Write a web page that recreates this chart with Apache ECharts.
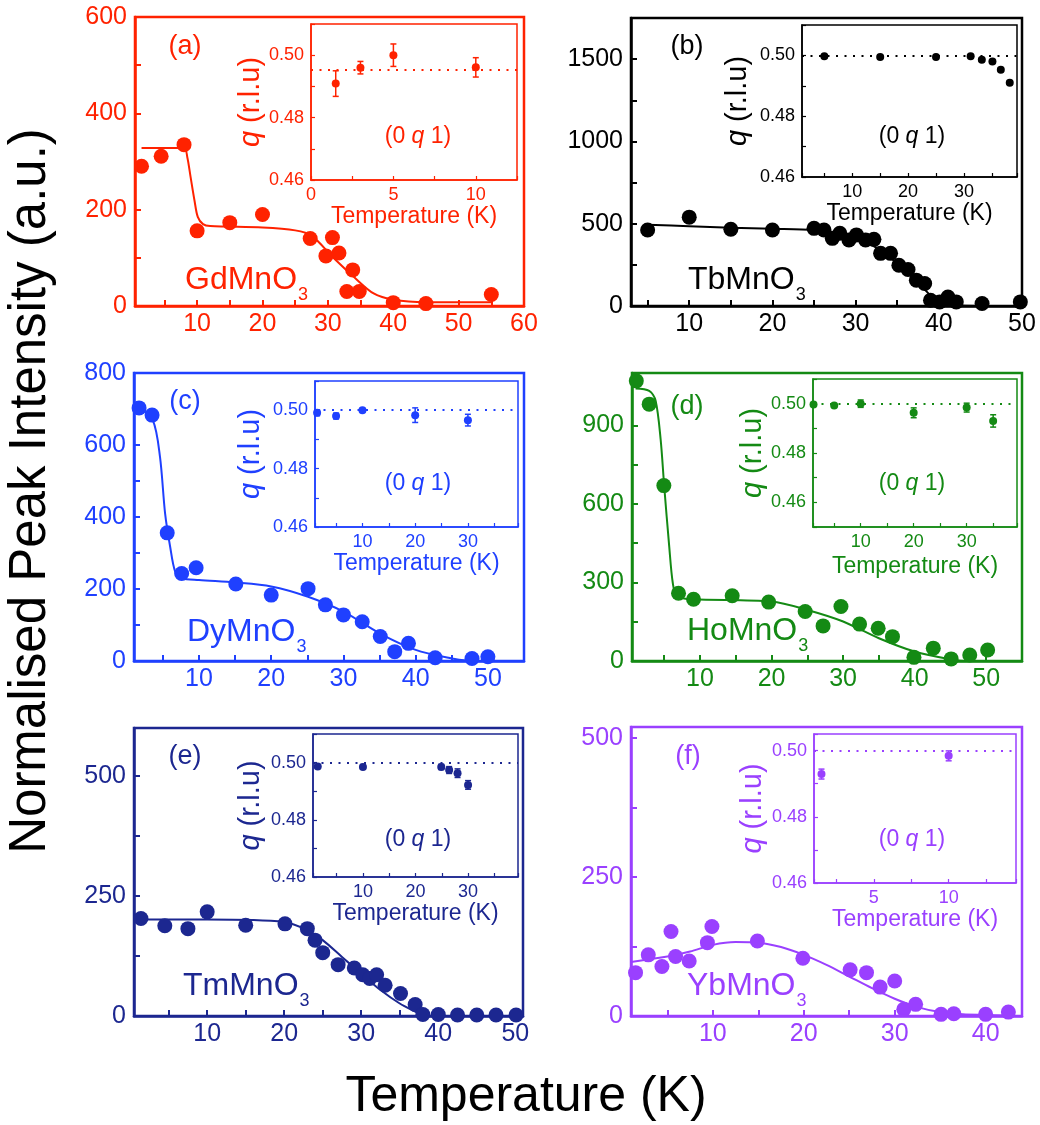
<!DOCTYPE html>
<html>
<head>
<meta charset="utf-8">
<script src="https://cdn.jsdelivr.net/npm/echarts@6/dist/echarts.min.js"></script>
<style>
  html, body { margin: 0; padding: 0; background: #fff; }
  #chart { width: 1040px; height: 1125px; }
</style>
</head>
<body>
<div id="chart"></div>
<script>
// ---- (a) GdMnO3 ----
const gdT = [1.5, 4.5, 8, 10, 15, 20, 27.3, 29.7, 30.7, 31.7, 32.9, 33.8, 34.8, 40, 45, 55]
const gdI = [290, 311, 335, 156, 173, 190, 140, 104, 142, 110, 30, 75, 30, 7, 5, 24]
const gdFitT = [1.5, 8, 8.5, 9, 9.6, 10.1, 10.9, 12, 20, 25, 27.5, 31, 34, 37, 40, 45, 55]
const gdFitI = [328, 328, 309, 268, 219, 185, 170, 166, 163, 157, 146, 98, 60, 26, 13, 8, 8]
const gdQT = [1.5, 3, 5, 10]
const gdQ = [0.4909, 0.496, 0.5, 0.4961]
const gdQErr = [0.0041, 0.002, 0.0036, 0.0031]
const gdQRef = 0.4952

// ---- (b) TbMnO3 ----
const tbT = [5, 10, 15, 20, 25, 26.2, 27.2, 28.1, 29.2, 30.1, 31.2, 32.2, 33, 34.2, 35.2, 36.3, 37.3, 38.3, 39, 40.1, 41.1, 42.1, 45.2, 49.8]
const tbI = [462, 540, 466, 462, 472, 462, 411, 442, 401, 432, 401, 405, 320, 320, 248, 222, 157, 137, 35, 25, 55, 25, 15, 25]
const tbFitT = [5, 10, 15, 20, 25, 28, 30, 33, 35, 37, 39, 40, 42, 45, 50]
const tbFitI = [493, 485, 476, 470, 462, 440, 418, 340, 259, 167, 65, 25, 4, 0, 0]
const tbQT = [5, 15, 25, 31.2, 33.2, 35.1, 36.6, 38.2]
const tbQ = [0.4997, 0.4995, 0.4995, 0.4997, 0.4986, 0.498, 0.4953, 0.491]
const tbQErr = [0.0005, 0.0005, 0.0005, 0.0005, 0.0005, 0.0005, 0.0005, 0.0005]
const tbQRef = 0.5

// ---- (c) DyMnO3 ----
const dyT = [1.7, 3.5, 5.6, 7.6, 9.6, 15.1, 20, 25.1, 27.5, 30, 32.6, 35.1, 37.1, 39, 42.7, 47.8, 50]
const dyI = [703, 683, 356, 243, 259, 214, 183, 201, 156, 128, 109, 68, 26, 49, 9, 7, 12]
const dyFitT = [1.5, 3.6, 4.6, 5.3, 6, 6.7, 7.6, 10, 15, 20, 25, 30, 35, 40, 45, 47.5]
const dyFitI = [706, 669, 567, 411, 318, 248, 230, 225, 218, 207, 179, 137, 77, 31, 7, 0]
const dyQT = [1.4, 5, 10, 20, 30]
const dyQ = [0.4991, 0.498, 0.5, 0.4983, 0.4966]
const dyQErr = [0.001, 0.001, 0.0006, 0.0025, 0.002]
const dyQRef = 0.5

// ---- (d) HoMnO3 ----
const hoT = [1.1, 2.9, 4.95, 7, 9.1, 14.5, 19.6, 24.7, 27.2, 29.7, 32.3, 34.9, 36.9, 39.9, 42.6, 45.1, 47.7, 50.2]
const hoI = [1070, 981, 670, 259, 236, 249, 225, 189, 134, 208, 141, 125, 93, 14, 49, 8, 23, 42]
const hoFitT = [1, 2.9, 3.8, 4.5, 5, 5.7, 6.2, 6.8, 9, 20, 25, 30, 35, 40, 45, 47]
const hoFitI = [1041, 1032, 994, 847, 668, 438, 298, 246, 236, 227, 195, 151, 87, 36, 6, 0]
const hoQT = [1.1, 5, 10, 20, 30, 35]
const hoQ = [0.4997, 0.4993, 0.5, 0.4963, 0.4984, 0.493]
const hoQErr = [0.0005, 0.0005, 0.0015, 0.002, 0.0018, 0.0025]
const hoQRef = 0.5

// ---- (e) TmMnO3 ----
const tmT = [1.4, 4.5, 7.5, 10, 15, 20.1, 23, 24, 25, 27, 29.1, 30.2, 31.1, 32, 33.1, 35.1, 37, 38, 40, 42.5, 45, 47.5, 50.1]
const tmI = [203, 188, 182, 217, 189, 192, 182, 158, 132, 107, 100, 86, 78, 86, 64, 47, 24, 3, 3, 2, 2, 2, 2]
const tmFitT = [1, 10, 20, 23, 25, 27.5, 30, 32.5, 35, 37.5, 38]
const tmFitI = [201, 201, 196, 179, 158, 123, 88, 54, 26, 5, 0]
const tmQT = [1.4, 10, 24.9, 26.4, 28, 30]
const tmQ = [0.4986, 0.4985, 0.4985, 0.4974, 0.4963, 0.4922]
const tmQErr = [0.0006, 0.0008, 0.0009, 0.0012, 0.0015, 0.0015]
const tmQRef = 0.5

// ---- (f) YbMnO3 ----
const ybT = [1.5, 2.9, 4.4, 5.4, 5.9, 7.4, 9.4, 9.9, 14.9, 19.9, 25.1, 26.9, 28.4, 30, 31, 32.3, 35.1, 36.5, 40, 42.5]
const ybI = [78, 110, 89, 152, 107, 99, 132, 161, 135, 104, 83, 78, 52, 63, 12, 21, 3, 4, 3, 7]
const ybFitT = [1, 5, 7.5, 10, 12.5, 15, 17.5, 20, 22.5, 25, 27.5, 30, 32.5, 35, 37.5, 40, 42.5]
const ybFitI = [97, 107, 116, 128, 133, 132, 124, 110, 92, 71, 50, 31, 16, 7, 3, 2, 1]
const ybQT = [1.5, 10]
const ybQ = [0.4929, 0.4984]
const ybQErr = [0.0015, 0.0015]
const ybQRef = 0.5

const FONT = '"Liberation Sans", Arial, sans-serif'

// layout: grid rects in px, axis ranges as [min, max, tickStep, labelStep]
const panels = [
  {
    tag: '(a)', formula: 'GdMnO', color: '#ff2200',
    T: gdT, I: gdI, fitT: gdFitT, fitI: gdFitI, qT: gdQT, q: gdQ, qErr: gdQErr, qRef: gdQRef,
    main: { left: 135, top: 17, width: 389, height: 289, x: [0.5, 60, 5, 10], y: [0, 600, 100, 200] },
    inset: { left: 311, top: 24, width: 206, height: 156, x: [0, 12.5, 2.5, 5], y: [0.46, 0.51, 0.01, 0.02], xGap: 22, yGap: 46 },
    tagPos: [185, 47], formulaPos: [185, 291.7], hklPos: [418, 137]
  },
  {
    tag: '(b)', formula: 'TbMnO', color: '#000000',
    T: tbT, I: tbI, fitT: tbFitT, fitI: tbFitI, qT: tbQT, q: tbQ, qErr: tbQErr, qRef: tbQRef,
    main: { left: 631, top: 18, width: 391, height: 288, x: [3, 50, 5, 10], y: [0, 1750, 250, 500] },
    inset: { left: 802, top: 25, width: 215, height: 152, x: [1, 39.5, 5, 10], y: [0.46, 0.51, 0.01, 0.02], xGap: 25, yGap: 50 },
    tagPos: [687, 47], formulaPos: [688, 291.7], hklPos: [912, 137]
  },
  {
    tag: '(c)', formula: 'DyMnO', color: '#1f40ff',
    T: dyT, I: dyI, fitT: dyFitT, fitI: dyFitI, qT: dyQT, q: dyQ, qErr: dyQErr, qRef: dyQRef,
    main: { left: 134, top: 373, width: 390, height: 288, x: [1, 55, 5, 10], y: [0, 800, 100, 200] },
    inset: { left: 315, top: 381, width: 203, height: 146, x: [1, 39.5, 5, 10], y: [0.46, 0.51, 0.01, 0.02], xGap: 25, yGap: 50 },
    tagPos: [185, 402], formulaPos: [187, 643.3], hklPos: [418, 484]
  },
  {
    tag: '(d)', formula: 'HoMnO', color: '#148a14',
    T: hoT, I: hoI, fitT: hoFitT, fitI: hoFitI, qT: hoQT, q: hoQ, qErr: hoQErr, qRef: hoQRef,
    main: { left: 632, top: 373, width: 390, height: 288, x: [0.5, 55, 5, 10], y: [0, 1100, 150, 300] },
    inset: { left: 813, top: 379, width: 204, height: 148, x: [1, 39.5, 5, 10], y: [0.45, 0.51, 0.01, 0.02], xGap: 28, yGap: 46 },
    tagPos: [687, 407], formulaPos: [687, 642.7], hklPos: [912, 484]
  },
  {
    tag: '(e)', formula: 'TmMnO', color: '#1c2790',
    T: tmT, I: tmI, fitT: tmFitT, fitI: tmFitI, qT: tmQT, q: tmQ, qErr: tmQErr, qRef: tmQRef,
    main: { left: 134, top: 728, width: 389, height: 288, x: [0.5, 51, 5, 10], y: [0, 600, 125, 250] },
    inset: { left: 313, top: 734, width: 205, height: 143, x: [0.5, 39.5, 5, 10], y: [0.46, 0.51, 0.01, 0.02], xGap: 25, yGap: 48 },
    tagPos: [185, 757], formulaPos: [183, 997.3], hklPos: [418, 840]
  },
  {
    tag: '(f)', formula: 'YbMnO', color: '#9a40ff',
    T: ybT, I: ybI, fitT: ybFitT, fitI: ybFitI, qT: ybQT, q: ybQ, qErr: ybQErr, qRef: ybQRef,
    main: { left: 631, top: 727, width: 391, height: 289, x: [1, 44, 5, 10], y: [0, 520, 125, 250] },
    inset: { left: 814, top: 734, width: 202, height: 149, x: [1, 14.5, 2.5, 5], y: [0.46, 0.505, 0.01, 0.02], xGap: 19, yGap: 47 },
    tagPos: [688, 757], formulaPos: [687, 997.3], hklPos: [912, 840]
  }
]

function zip(a, b) {
  return a.map((v, i) => [v, b[i]])
}

function onStep(v, step) {
  const k = v / step
  return Math.abs(k - Math.round(k)) < 1e-6
}

function valueAxis(gridIndex, range, color, o) {
  const [min, max, step, labelStep] = range
  return {
    type: 'value',
    gridIndex,
    min,
    max,
    minInterval: step,
    maxInterval: step,
    splitNumber: Math.round((max - min) / step),
    name: o.name || '',
    nameLocation: 'middle',
    nameGap: o.nameGap || 0,
    nameTextStyle: o.nameStyle || {},
    axisLine: { show: true, onZero: false, lineStyle: { color, width: o.lineWidth } },
    axisTick: { show: true, inside: true, length: o.tickLen, lineStyle: { color, width: o.tickWidth } },
    splitLine: { show: false },
    axisLabel: {
      color,
      fontSize: o.fontSize,
      fontFamily: FONT,
      margin: o.margin,
      hideOverlap: false,
      formatter: (v) => (onStep(v, labelStep) ? o.fmt(v) : '')
    }
  }
}

function errorBarItem(params, api) {
  const x = api.value(0)
  const lo = api.coord([x, api.value(1)])
  const hi = api.coord([x, api.value(2)])
  const cap = 3
  const style = { stroke: api.visual('color'), lineWidth: 1.5 }
  return {
    type: 'group',
    children: [
      { type: 'line', shape: { x1: lo[0], y1: lo[1], x2: hi[0], y2: hi[1] }, style },
      { type: 'line', shape: { x1: lo[0] - cap, y1: lo[1], x2: lo[0] + cap, y2: lo[1] }, style },
      { type: 'line', shape: { x1: hi[0] - cap, y1: hi[1], x2: hi[0] + cap, y2: hi[1] }, style }
    ]
  }
}

const measureCtx = document.createElement('canvas').getContext('2d')
function textWidth(text, size) {
  measureCtx.font = `${size}px "Liberation Sans"`
  return measureCtx.measureText(text).width
}

const grids = []
const xAxes = []
const yAxes = []
const series = []
const graphics = []

panels.forEach((p, i) => {
  const c = p.color
  const mainIdx = i * 2
  const insetIdx = i * 2 + 1

  grids.push({
    left: p.main.left, top: p.main.top, width: p.main.width, height: p.main.height,
    show: true, borderColor: c, borderWidth: 2.5, backgroundColor: 'transparent',
    containLabel: false, outerBoundsMode: 'none'
  })
  grids.push({
    left: p.inset.left, top: p.inset.top, width: p.inset.width, height: p.inset.height,
    show: true, borderColor: c, borderWidth: 1.5, backgroundColor: 'transparent',
    containLabel: false, outerBoundsMode: 'none'
  })

  xAxes.push(valueAxis(mainIdx, p.main.x, c, {
    lineWidth: 2.5, tickLen: 6, tickWidth: 2, fontSize: 25, margin: 6, fmt: (v) => String(Math.round(v))
  }))
  yAxes.push(valueAxis(mainIdx, p.main.y, c, {
    lineWidth: 2.5, tickLen: 6, tickWidth: 2, fontSize: 25, margin: 8, fmt: (v) => String(Math.round(v))
  }))
  xAxes.push(valueAxis(insetIdx, p.inset.x, c, {
    lineWidth: 1.5, tickLen: 4, tickWidth: 1.2, fontSize: 18, margin: 6, fmt: (v) => String(v),
    name: 'Temperature (K)', nameGap: p.inset.xGap,
    nameStyle: { color: c, fontSize: 23, fontFamily: FONT }
  }))
  yAxes.push(valueAxis(insetIdx, p.inset.y, c, {
    lineWidth: 1.5, tickLen: 4, tickWidth: 1.2, fontSize: 18, margin: 7, fmt: (v) => v.toFixed(2),
    name: '{i|q} (r.l.u)', nameGap: p.inset.yGap,
    nameStyle: {
      color: c, fontSize: 29, fontFamily: FONT,
      rich: { i: { fontStyle: 'italic', fontSize: 29, color: c, fontFamily: FONT } }
    }
  }))

  series.push({
    type: 'line',
    xAxisIndex: mainIdx, yAxisIndex: mainIdx,
    data: zip(p.fitT, p.fitI),
    smooth: 0.3,
    showSymbol: false,
    lineStyle: { color: c, width: 2 },
    itemStyle: { color: c },
    z: 2
  })
  series.push({
    type: 'scatter',
    xAxisIndex: mainIdx, yAxisIndex: mainIdx,
    data: zip(p.T, p.I),
    symbolSize: 15,
    itemStyle: { color: c, opacity: 1 },
    z: 3
  })
  series.push({
    type: 'custom',
    xAxisIndex: insetIdx, yAxisIndex: insetIdx,
    data: p.qT.map((t, k) => [t, p.q[k] - p.qErr[k], p.q[k] + p.qErr[k]]),
    encode: { x: 0, y: [1, 2] },
    renderItem: errorBarItem,
    itemStyle: { color: c },
    z: 3
  })
  series.push({
    type: 'scatter',
    xAxisIndex: insetIdx, yAxisIndex: insetIdx,
    data: zip(p.qT, p.q),
    symbolSize: 8,
    itemStyle: { color: c, opacity: 1 },
    z: 4,
    markLine: {
      silent: true,
      precision: 5,
      symbol: ['none', 'none'],
      label: { show: false },
      lineStyle: { color: c, type: [2, 6.5], width: 2 },
      data: [{ yAxis: p.qRef }]
    }
  })

  graphics.push({
    type: 'text', x: p.tagPos[0], y: p.tagPos[1],
    style: { text: p.tag, fill: c, font: `27px ${FONT}`, textAlign: 'center', textVerticalAlign: 'middle' }
  })
  graphics.push({
    type: 'text', x: p.formulaPos[0], y: p.formulaPos[1] - 11.1,
    style: { text: p.formula, fill: c, font: `32px ${FONT}`, textAlign: 'left', textVerticalAlign: 'middle' }
  })
  graphics.push({
    type: 'text', x: p.formulaPos[0] + textWidth(p.formula, 32) + 1, y: p.formulaPos[1] + 10 - 6.2,
    style: { text: '3', fill: c, font: `18px ${FONT}`, textAlign: 'left', textVerticalAlign: 'middle' }
  })
  graphics.push({
    type: 'text', x: p.hklPos[0], y: p.hklPos[1],
    style: {
      text: '{n|(0 }{i|q}{n| 1)}',
      textAlign: 'center', textVerticalAlign: 'middle',
      rich: {
        n: { fill: c, fontSize: 23, fontFamily: FONT },
        i: { fill: c, fontSize: 23, fontFamily: FONT, fontStyle: 'italic' }
      }
    }
  })
})

graphics.push({
  type: 'text', x: 31, y: 491, rotation: Math.PI / 2,
  style: {
    text: 'Normalised Peak Intensity (a.u.)', fill: '#000',
    font: `51px ${FONT}`, textAlign: 'center', textVerticalAlign: 'middle'
  }
})
graphics.push({
  type: 'text', x: 526, y: 1097,
  style: {
    text: 'Temperature (K)', fill: '#000',
    font: `50px ${FONT}`, textAlign: 'center', textVerticalAlign: 'middle'
  }
})

const chart = echarts.init(document.getElementById('chart'), null, { renderer: 'canvas' })
chart.setOption({
  animation: false,
  backgroundColor: '#fff',
  textStyle: { fontFamily: FONT },
  grid: grids,
  xAxis: xAxes,
  yAxis: yAxes,
  series,
  graphic: graphics
})
</script>
</body>
</html>
